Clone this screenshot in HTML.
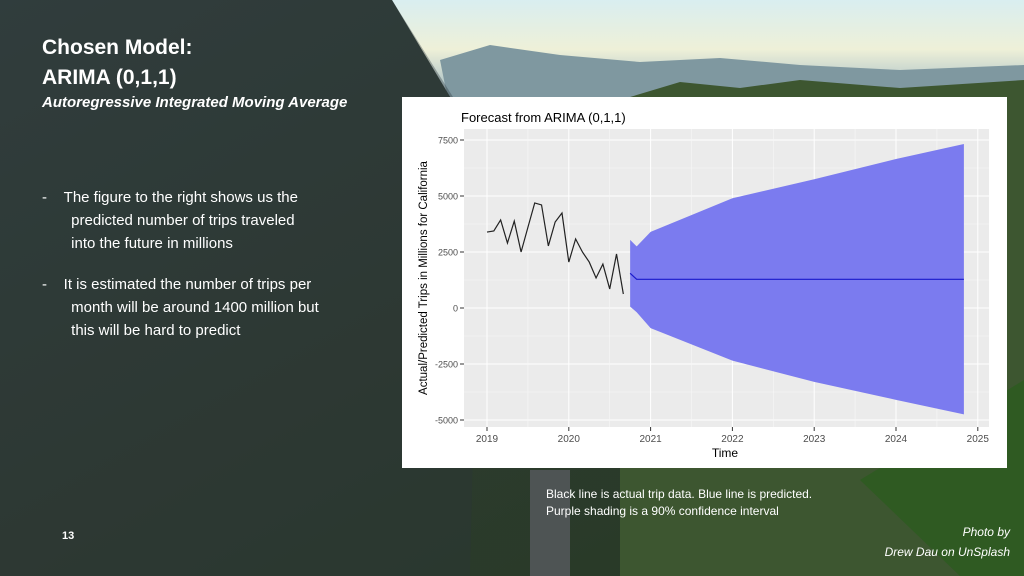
<!DOCTYPE html>
<html><head><meta charset="utf-8"><style>
body{margin:0;width:1024px;height:576px;overflow:hidden;font-family:"Liberation Sans",sans-serif}
#bg{position:absolute;left:0;top:0;width:1024px;height:576px}
.t{position:absolute;color:#fff;white-space:nowrap}
</style></head><body>
<svg id="bg" width="1024" height="576">
<defs>
<linearGradient id="sky" x1="0" y1="0" x2="0" y2="1"><stop offset="0" stop-color="#d9eef0"/><stop offset="0.55" stop-color="#eef0d8"/><stop offset="1" stop-color="#a9c0c6"/></linearGradient>
<linearGradient id="land" x1="0" y1="0" x2="1" y2="1"><stop offset="0" stop-color="#34423f"/><stop offset="0.5" stop-color="#2e3b30"/><stop offset="1" stop-color="#253a22"/></linearGradient>
</defs>
<rect width="1024" height="576" fill="url(#land)"/>
<path d="M392 0 L1024 0 L1024 90 L446 90Z" fill="url(#sky)"/>
<path d="M446 90 L440 60 L490 45 L560 55 L640 62 L720 58 L800 65 L900 70 L1024 65 L1024 110 L458 110Z" fill="#7f98a0"/>
<path d="M620 100 L680 82 L740 88 L800 80 L900 88 L1024 80 L1024 576 L620 576Z" fill="#3d5630"/>
<path d="M860 480 L1024 380 L1024 576 L960 576Z" fill="#2f5a22"/>
<rect x="530" y="470" width="40" height="106" fill="#4e5454"/>
<path d="M0 0 L392 0 L480 140 L470 576 L0 576Z" fill="#2c3438" opacity="0.35"/>
</svg>
<div class="t" style="left:42px;top:33px;font-size:21px;font-weight:bold;line-height:30px">Chosen Model:<br>ARIMA (0,1,1)</div>
<div class="t" style="left:42px;top:94px;font-size:15px;font-weight:bold;font-style:italic">Autoregressive Integrated Moving Average</div>
<div class="t" style="left:42px;top:186px;font-size:15px;line-height:23px">-&nbsp;&nbsp;&nbsp;&nbsp;The figure to the right shows us the<br>&nbsp;&nbsp;&nbsp;&nbsp;&nbsp;&nbsp;&nbsp;predicted number of trips traveled<br>&nbsp;&nbsp;&nbsp;&nbsp;&nbsp;&nbsp;&nbsp;into the future in millions</div>
<div class="t" style="left:42px;top:273px;font-size:15px;line-height:23px">-&nbsp;&nbsp;&nbsp;&nbsp;It is estimated the number of trips per<br>&nbsp;&nbsp;&nbsp;&nbsp;&nbsp;&nbsp;&nbsp;month will be around 1400 million but<br>&nbsp;&nbsp;&nbsp;&nbsp;&nbsp;&nbsp;&nbsp;this will be hard to predict</div>
<div class="t" style="left:546px;top:486px;font-size:12px;line-height:17px">Black line is actual trip data. Blue line is predicted.<br>Purple shading is a 90% confidence interval</div>
<div class="t" style="left:62px;top:530px;font-size:11px;font-weight:bold">13</div>
<div class="t" style="right:14px;top:522px;font-size:12px;font-style:italic;text-align:right;line-height:20px">Photo by<br>Drew Dau on UnSplash</div>
<svg id="chart" style="position:absolute;left:0;top:0" width="1024" height="576"></svg>
<script>
const actualValues=[3390,3440,3930,2900,3880,2500,3600,4690,4600,2770,3840,4240,2050,3080,2500,2050,1340,1960,850,2410,625];
const actualStart=2019.0;
const forecastTimes=[2020.75,2020.83,2021.0,2022.0,2023.0,2024.0,2024.83];
const forecastMean=[1550,1280,1280,1280,1280,1280,1280];
const forecastUpper=[3040,2750,3400,4900,5750,6650,7320];
const forecastLower=[60,-190,-900,-2350,-3300,-4100,-4750];
const yTicks=[7500,5000,2500,0,-2500,-5000];
const xTicks=[2019,2020,2021,2022,2023,2024,2025];
const svg=document.getElementById('chart');const NS='http://www.w3.org/2000/svg';
function X(t){return 487+(t-2019)*81.8;}
function Y(v){return 308-v*0.0224;}
function mk(tag,a,parent){const e=document.createElementNS(NS,tag);for(const k in a)e.setAttribute(k,a[k]);(parent||svg).appendChild(e);return e;}
const box=mk('rect',{x:402,y:97,width:605,height:371,fill:'#fff'});


const plot=mk('rect',{x:464,y:129,width:525,height:298,fill:'#ebebeb'});


for(let i=0;i<yTicks.length;i++){const v=yTicks[i];
 mk('line',{x1:464,x2:989,y1:Y(v),y2:Y(v),stroke:'#fff','stroke-width':1});
 if(i<yTicks.length-1)mk('line',{x1:464,x2:989,y1:Y(v-1250),y2:Y(v-1250),stroke:'#f7f7f7','stroke-width':0.6});
 const tl=mk('text',{x:458,y:Y(v)+3.5,'font-size':9,fill:'#4d4d4d','text-anchor':'end'});tl.textContent=v;
 
 
 mk('line',{x1:460,x2:464,y1:Y(v),y2:Y(v),stroke:'#333'});}
for(let i=0;i<xTicks.length;i++){const t=xTicks[i];
 mk('line',{x1:X(t),x2:X(t),y1:129,y2:427,stroke:'#fff','stroke-width':1});
 if(i<xTicks.length-1)mk('line',{x1:X(t+0.5),x2:X(t+0.5),y1:129,y2:427,stroke:'#f7f7f7','stroke-width':0.6});
 const tl=mk('text',{x:X(t),y:442,'font-size':10,fill:'#4d4d4d','text-anchor':'middle'});tl.textContent=t;
 
 
 mk('line',{x1:X(t),x2:X(t),y1:427,y2:431,stroke:'#333'});}
let d='';for(let i=0;i<forecastTimes.length;i++)d+=(i?'L':'M')+X(forecastTimes[i])+' '+Y(forecastUpper[i]);
for(let i=forecastTimes.length-1;i>=0;i--)d+='L'+X(forecastTimes[i])+' '+Y(forecastLower[i]);
const band=mk('path',{d:d+'Z',fill:'#7b7bef'});


let pm='';for(let i=0;i<forecastTimes.length;i++)pm+=(i?'L':'M')+X(forecastTimes[i])+' '+Y(forecastMean[i]);
const ml=mk('path',{d:pm,fill:'none',stroke:'#1a1acc','stroke-width':1.2});


let pa='';for(let i=0;i<actualValues.length;i++)pa+=(i?'L':'M')+X(actualStart+i/12)+' '+Y(actualValues[i]);
const al=mk('path',{d:pa,fill:'none',stroke:'#222','stroke-width':1.2});


const ti=mk('text',{x:461,y:122,'font-size':13,fill:'#000'});ti.textContent='Forecast from ARIMA (0,1,1)';


const xt=mk('text',{x:725,y:457,'font-size':12,fill:'#000','text-anchor':'middle'});xt.textContent='Time';


const yt=mk('text',{x:0,y:0,'font-size':11.5,fill:'#000','text-anchor':'middle',transform:'translate(427,278) rotate(-90)'});yt.textContent='Actual/Predicted Trips in Millions for California';


</script>
</body></html>
